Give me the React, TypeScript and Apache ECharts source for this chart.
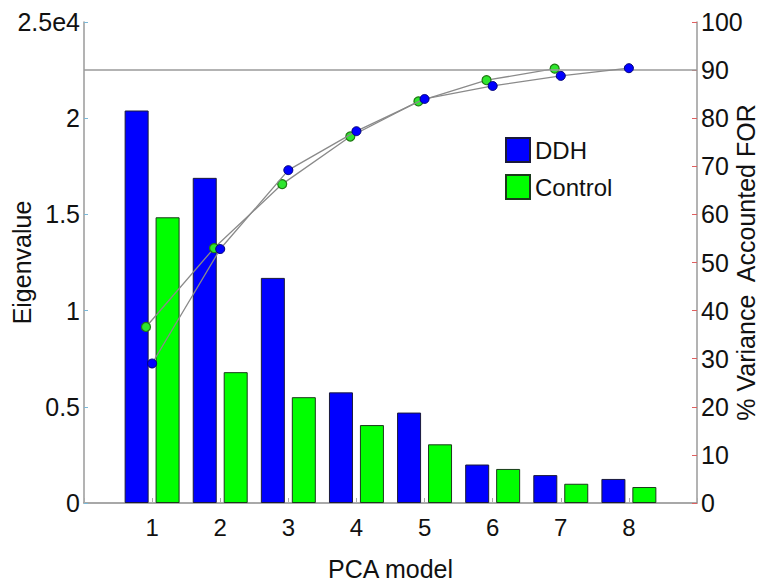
import React, { useEffect, useRef } from 'react';
import * as echarts from 'echarts';

const categories = ['1', '2', '3', '4', '5', '6', '7', '8'];
const ddhEigen = [2.04, 1.69, 1.17, 0.575, 0.47, 0.2, 0.145, 0.125];
const controlEigen = [1.485, 0.68, 0.55, 0.405, 0.305, 0.177, 0.1, 0.083];
const ddhCumulative = [29, 52.8, 69.2, 77.3, 84, 86.7, 88.8, 90.4];
const controlCumulative = [36.6, 53, 66.3, 76.2, 83.5, 87.9, 90.3];
const leftTickLabels = ['0', '0.5', '1', '1.5', '2', '2.5e4'];
const rightTickLabels = ['0', '10', '20', '30', '40', '50', '60', '70', '80', '90', '100'];
const thresholdPct = 90;

const FONT = 'Liberation Sans, Arial, Helvetica, sans-serif';

export default function App() {
  const ref = useRef<HTMLDivElement>(null);
  useEffect(() => {
    const chart = echarts.init(ref.current!, null, { renderer: 'svg' });
    chart.setOption({
      animation: false,
      backgroundColor: '#ffffff',
      textStyle: { fontFamily: FONT },
      grid: {
        left: 84,
        right: 62,
        top: 22,
        bottom: 79,
        containLabel: false,
        outerBoundsMode: 'none',
      },
      legend: {
        data: ['DDH', 'Control'],
        orient: 'vertical',
        left: 505,
        top: 137,
        padding: 0,
        itemWidth: 24,
        itemHeight: 24,
        itemGap: 11,
        icon: 'rect',
        textStyle: { fontSize: 24, color: '#111', fontFamily: FONT },
      },
      xAxis: [
        {
          type: 'value',
          min: 0,
          max: 9,
          interval: 1,
          name: 'PCA model',
          nameLocation: 'middle',
          nameGap: 53,
          nameMoveOverlap: false,
          nameTextStyle: { fontSize: 25, color: '#111', fontFamily: FONT },
          axisLine: { lineStyle: { color: '#8c8c8c', width: 1.5 } },
          axisTick: { inside: true, length: 5, lineStyle: { color: '#aaaaaa' } },
          axisLabel: {
            fontSize: 24,
            color: '#111',
            margin: 12,
            fontFamily: FONT,
            formatter: (v: number) => (v >= 1 && v <= categories.length ? categories[v - 1] : ''),
          },
          splitLine: { show: false },
        },
        {
          type: 'value',
          min: 0.09,
          max: 9.09,
          show: false,
          splitLine: { show: false },
        },
      ],
      yAxis: [
        {
          type: 'value',
          min: 0,
          max: 2.5,
          interval: 0.5,
          name: 'Eigenvalue',
          nameLocation: 'middle',
          nameGap: 50,
          nameMoveOverlap: false,
          nameTextStyle: { fontSize: 25, color: '#111', fontFamily: FONT },
          axisLine: { show: true, lineStyle: { color: '#9a9a9a', width: 1.5 } },
          axisTick: { show: true, inside: true, length: 4, lineStyle: { color: '#7ab8d8' } },
          axisLabel: {
            fontSize: 25,
            color: '#111',
            margin: 4,
            fontFamily: FONT,
            formatter: (v: number) => leftTickLabels[Math.round(v / 0.5)],
          },
          splitLine: { show: false },
        },
        {
          type: 'value',
          min: 0,
          max: 100,
          interval: 10,
          position: 'right',
          name: '% Variance  Accounted FOR',
          nameLocation: 'middle',
          nameGap: 36,
          nameMoveOverlap: false,
          nameTextStyle: { fontSize: 25, color: '#111', fontFamily: FONT },
          axisLine: { show: true, lineStyle: { color: '#9a9a9a', width: 1.5 } },
          axisTick: { show: true, inside: true, length: 5, lineStyle: { color: '#e06060' } },
          axisLabel: {
            fontSize: 25,
            color: '#111',
            margin: 4,
            fontFamily: FONT,
            formatter: (v: number) => rightTickLabels[Math.round(v / 10)],
          },
          splitLine: { show: false },
        },
      ],
      series: [
        {
          name: 'DDH',
          type: 'bar',
          xAxisIndex: 0,
          yAxisIndex: 0,
          barWidth: 24,
          barGap: '29%',
          itemStyle: { color: '#0000ff', borderColor: '#1a1a3a', borderWidth: 1 },
          data: categories.map((c, i) => [Number(c), ddhEigen[i]]),
        },
        {
          name: 'Control',
          type: 'bar',
          xAxisIndex: 0,
          yAxisIndex: 0,
          barWidth: 24,
          barGap: '29%',
          itemStyle: { color: '#00ff00', borderColor: '#1a3a1a', borderWidth: 1 },
          data: categories.map((c, i) => [Number(c), controlEigen[i]]),
        },
        {
          name: 'Control cumulative',
          type: 'line',
          xAxisIndex: 1,
          yAxisIndex: 1,
          z: 4,
          symbol: 'circle',
          symbolSize: 9,
          lineStyle: { color: '#8a8a8a', width: 1.3 },
          itemStyle: { color: '#2ee62e', borderColor: '#1f7a12', borderWidth: 1.2 },
          data: controlCumulative.map((v, i) => [Number(categories[i]), v]),
        },
        {
          name: 'DDH cumulative',
          type: 'line',
          xAxisIndex: 0,
          yAxisIndex: 1,
          z: 5,
          symbol: 'circle',
          symbolSize: 9,
          lineStyle: { color: '#8a8a8a', width: 1.3 },
          itemStyle: { color: '#0000ff', borderColor: '#00007a', borderWidth: 1 },
          data: ddhCumulative.map((v, i) => [Number(categories[i]), v]),
          markLine: {
            silent: true,
            symbol: 'none',
            label: { show: false },
            lineStyle: { color: '#9a9a9a', width: 1.5, type: 'solid' },
            data: [{ yAxis: thresholdPct }],
          },
        },
      ],
    });
    return () => chart.dispose();
  }, []);
  return (
    <div
      ref={ref}
      style={{ position: 'absolute', left: 0, top: 0, width: 759, height: 582 }}
    />
  );
}
